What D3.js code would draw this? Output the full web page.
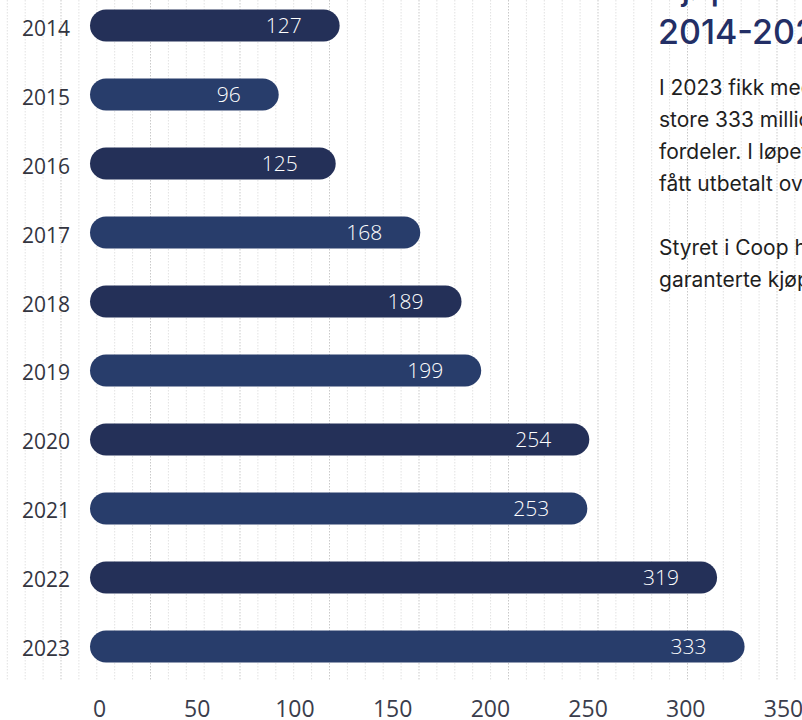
<!DOCTYPE html>
<html><head><meta charset="utf-8">
<script src="https://cdn.jsdelivr.net/npm/d3@7"></script>
<style>
html,body{margin:0;padding:0;background:#fff;overflow:hidden;}
svg{display:block;}
</style></head>
<body>
<svg id="c" width="802" height="720"></svg>
<script>
const years = ["2014","2015","2016","2017","2018","2019","2020","2021","2022","2023"];
const values = [127, 96, 125, 168, 189, 199, 254, 253, 319, 333];
const ticks = [0, 50, 100, 150, 200, 250, 300, 350];
const titleLines = ["Kjøpeutbytte, per år", "2014-2023"];
const paragraph1 = [
  "I 2023 fikk medlemmene utbetalt hele",
  "store 333 millioner kroner i medlems-",
  "fordeler. I løpet av ti år har medlemmene",
  "fått utbetalt over to milliarder kroner."
];
const paragraph2 = [
  "Styret i Coop har vedtatt å videreføre",
  "garanterte kjøpeutbytte også i 2024."
];

const svg = d3.select("#c");
const W = 802, H = 720;

// background dotted grid
const grid = svg.append("g");
const gx = d3.range(7.3, W, 17.9);
grid.selectAll("line").data(gx).join("line")
  .attr("x1", d => d).attr("x2", d => d)
  .attr("y1", 0).attr("y2", 680)
  .attr("stroke", (d, i) => (i % 5 === 3) ? "#c9c9c9" : "#e2e2e2")
  .attr("stroke-width", 1)
  .attr("stroke-dasharray", "1.5,1.5");

const x = d3.scaleLinear().domain([0, 350]).range([90, 778]);
const xAxisScale = d3.scaleLinear().domain([0, 350]).range([99, 783]);
const y = d3.scaleBand().domain(years).range([9.5, 662.5]).paddingInner(0.5362).paddingOuter(0);

const colors = ["#243058", "#283d6b"];

const bars = svg.append("g");
bars.selectAll("rect").data(years).join("rect")
  .attr("x", x(0))
  .attr("y", d => y(d))
  .attr("width", (d, i) => x(values[i]) - x(0))
  .attr("height", y.bandwidth())
  .attr("rx", y.bandwidth() / 2)
  .attr("fill", (d, i) => colors[i % 2]);

bars.selectAll("text.v").data(years).join("text")
  .attr("class", "v")
  .attr("x", (d, i) => x(values[i]) - 38)
  .attr("y", d => y(d) + y.bandwidth() / 2 + 7.5)
  .attr("text-anchor", "end")
  .attr("fill", "#ffffff")
  .style("font-family", "'Open Sans', sans-serif")
  .style("font-weight", "300")
  .style("font-size", "21px")
  .text((d, i) => values[i]);

// year labels
svg.append("g").selectAll("text").data(years).join("text")
  .attr("x", 22)
  .attr("y", d => y(d) + y.bandwidth() / 2 + 10)
  .attr("fill", "#33353f")
  .style("font-family", "'Open Sans', sans-serif")
  .style("font-size", "21px")
  .text(d => d);

// x axis
const axis = d3.axisBottom(xAxisScale).tickValues(ticks).tickSize(0).tickPadding(0);
const ag = svg.append("g").attr("transform", "translate(0,700)").call(axis);
ag.select(".domain").remove();
ag.selectAll("text")
  .attr("dy", "0")
  .attr("y", 17)
  .attr("fill", "#3a3d4c")
  .style("font-family", "'Open Sans', sans-serif")
  .style("font-size", "23px");

// title
const tg = svg.append("g");
tg.selectAll("text").data(titleLines).join("text")
  .attr("x", 658)
  .attr("y", (d, i) => 0 + i * 44)
  .attr("fill", "#232f66")
  .style("font-family", "Inter, sans-serif")
  .style("font-weight", "500")
  .style("font-size", "34px")
  .text(d => d);

const pg = svg.append("g")
  .style("font-family", "Inter, sans-serif")
  .style("font-size", "21px")
  .attr("fill", "#1f1f1f");
pg.selectAll("text.p1").data(paragraph1).join("text")
  .attr("class", "p1")
  .attr("x", 659)
  .attr("y", (d, i) => 95 + i * 32)
  .text(d => d);
pg.selectAll("text.p2").data(paragraph2).join("text")
  .attr("class", "p2")
  .attr("x", 659)
  .attr("y", (d, i) => 255 + i * 32)
  .text(d => d);
</script>
</body></html>
